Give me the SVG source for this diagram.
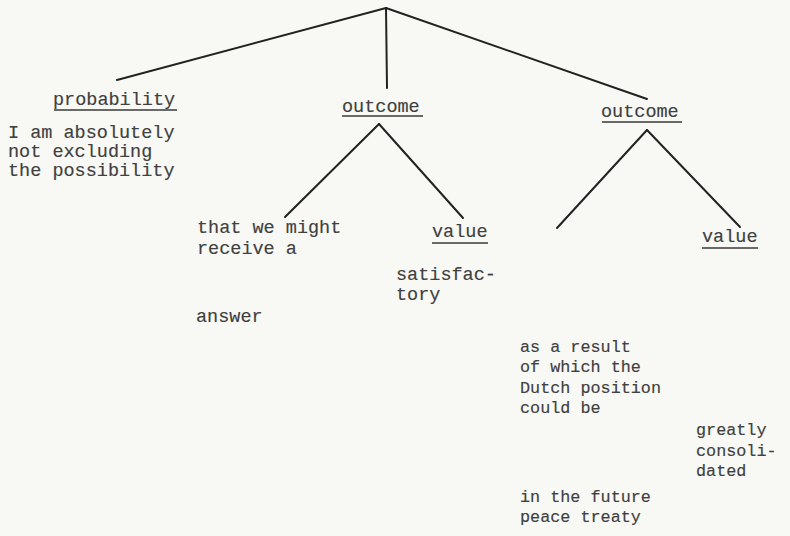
<svg xmlns="http://www.w3.org/2000/svg" width="790" height="536" viewBox="0 0 790 536">
<style>
.t{font-family:"Liberation Mono","Courier New",monospace;font-size:18.5px;fill:#404040;stroke:#404040;stroke-width:0.15}
.s{font-size:16.8px}
.u{stroke:#3a3a3a;stroke-width:1.6}
.c{stroke:#222;stroke-width:2;fill:none;stroke-linecap:round}
</style>
<rect width="790" height="536" fill="#f8f8f4"/>
<g id="connectors">
<line class="c" x1="386" y1="8" x2="117" y2="80"/>
<line class="c" x1="386" y1="8" x2="387" y2="88"/>
<line class="c" x1="386" y1="8" x2="647" y2="99"/>
<line class="c" x1="379" y1="124" x2="285" y2="217"/>
<line class="c" x1="379" y1="124" x2="463" y2="218"/>
<line class="c" x1="647" y1="130" x2="557" y2="228"/>
<line class="c" x1="647" y1="130" x2="740" y2="227"/>
</g>
<g id="probability">
<text class="t" x="53" y="105">probability</text>
<line class="u" x1="54" y1="110" x2="177" y2="110"/>
<text class="t" x="8" y="138">I am absolutely</text>
<text class="t" x="8" y="157">not excluding</text>
<text class="t" x="8" y="176">the possibility</text>
</g>
<g id="outcome1">
<text class="t" x="342" y="112">outcome</text>
<line class="u" x1="342" y1="116" x2="423" y2="116"/>
</g>
<g id="outcome1-left">
<text class="t" x="197" y="233">that we might</text>
<text class="t" x="197" y="254">receive a</text>
<text class="t" x="196" y="322">answer</text>
</g>
<g id="value1">
<text class="t" x="432" y="237">value</text>
<line class="u" x1="432" y1="243" x2="488" y2="243"/>
<text class="t" x="396" y="280">satisfac-</text>
<text class="t" x="396" y="300">tory</text>
</g>
<g id="outcome2">
<text class="t" x="601" y="117">outcome</text>
<line class="u" x1="602" y1="122" x2="682" y2="122"/>
</g>
<g id="outcome2-left">
<text class="t s" x="520" y="352">as a result</text>
<text class="t s" x="520" y="372">of which the</text>
<text class="t s" x="520" y="393">Dutch position</text>
<text class="t s" x="520" y="413">could be</text>
<text class="t s" x="520" y="502">in the future</text>
<text class="t s" x="520" y="522">peace treaty</text>
</g>
<g id="value2">
<text class="t" x="702" y="242">value</text>
<line class="u" x1="702" y1="248" x2="758" y2="248"/>
<text class="t s" x="696" y="435">greatly</text>
<text class="t s" x="696" y="456">consoli-</text>
<text class="t s" x="696" y="476">dated</text>
</g>
</svg>
